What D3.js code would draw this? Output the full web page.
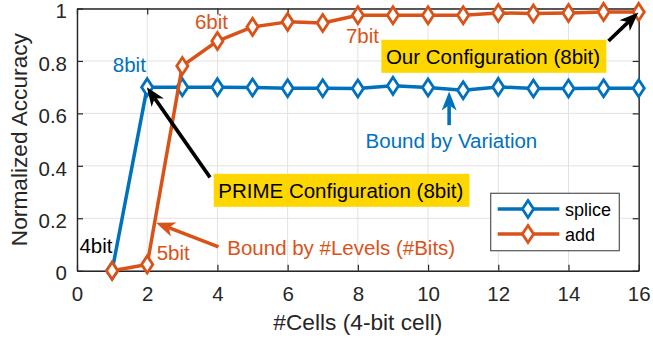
<!DOCTYPE html>
<html><head><meta charset="utf-8">
<script src="https://cdn.jsdelivr.net/npm/d3@7"></script>
<style>
body{margin:0;background:#fff}
svg{display:block}
text{font-family:"Liberation Sans",Arial,Helvetica,sans-serif}
</style>
</head><body>
<svg id="chart" width="653" height="340"></svg>
<script>
// ---- data ----
const cells = [1,2,3,4,5,6,7,8,9,10,11,12,13,14,15,16];
const splice = [0,0.700,0.700,0.700,0.699,0.696,0.696,0.695,0.705,0.699,0.688,0.701,0.695,0.695,0.696,0.696];
const add    = [0,0.024,0.781,0.876,0.930,0.949,0.945,0.974,0.974,0.974,0.974,0.983,0.981,0.983,0.987,0.987];
const seriesNames = ["splice","add"];
const xTicks = [0,2,4,6,8,10,12,14,16];
const yTicks = [0,0.2,0.4,0.6,0.8,1];
const yTickLabels = ["0","0.2","0.4","0.6","0.8","1"];
const xLabel = "#Cells (4-bit cell)";
const yLabel = "Normalized Accuracy";
// annotation texts: [text, x, y (data units, left/baseline), colour key]
const noteTexts = [
  ["8bit", 1.02, 0.757, "blue"],
  ["6bit", 3.36, 0.923, "orange"],
  ["7bit", 7.66, 0.869, "orange"],
  ["4bit", 0.07, 0.066, "black"],
  ["5bit", 2.27, 0.041, "orange"],
  ["Bound by Variation", 8.22, 0.469, "blue"],
  ["Bound by #Levels (#Bits)", 4.28, 0.060, "orange"]
];
// highlighted boxes: [text, x, y (left/baseline)]
const boxTexts = [
  ["Our Configuration (8bit)", 8.80, 0.789],
  ["PRIME Configuration (8bit)", 4.025, 0.278]
];
// arrows: [x1,y1 (tail), x2,y2 (tip), colour key]
const arrows = [
  [3.79, 0.356, 1.99, 0.700, "black"],
  [15.14, 0.876, 15.99, 0.985, "black"],
  [10.60, 0.555, 10.60, 0.683, "blue"],
  [4.03, 0.091, 2.25, 0.183, "orange"]
];

// ---- drawing ----
const colors = {blue:"#0072BD", orange:"#D95319", black:"#000000"};
const seriesColors = [colors.blue, colors.orange];
const axisColor = "#262626";
const svg = d3.select("#chart");
const x = d3.scaleLinear().domain([0,16]).range([77,638.7]);
const y = d3.scaleLinear().domain([0,1]).range([270.7,8.5]);

// grid
const grid = svg.append("g");
grid.selectAll(".gx").data(xTicks).join("line")
  .attr("x1",d=>x(d)).attr("x2",d=>x(d)).attr("y1",y(0)).attr("y2",y(1))
  .attr("stroke","#e2e2e2").attr("stroke-width",1);
grid.selectAll(".gy").data(yTicks).join("line")
  .attr("x1",x(0)).attr("x2",x(16)).attr("y1",d=>y(d)).attr("y2",d=>y(d))
  .attr("stroke","#e2e2e2").attr("stroke-width",1);

// axes
function styleAxis(g){
  g.select(".domain").attr("stroke",axisColor).attr("stroke-width",1.4);
  g.selectAll(".tick line").attr("stroke",axisColor).attr("stroke-width",1.2);
  g.selectAll(".tick text").attr("fill",axisColor).style("font-size","20.5px")
   .style("font-family",'"Liberation Sans",Arial,sans-serif');
}
svg.append("g").attr("transform",`translate(0,${y(0)})`)
  .call(d3.axisBottom(x).tickValues(xTicks).tickFormat(d3.format("d")).tickSizeInner(-6).tickSizeOuter(0).tickPadding(16))
  .call(styleAxis);
svg.append("g").attr("transform",`translate(0,${y(1)})`)
  .call(d3.axisTop(x).tickValues(xTicks).tickFormat("").tickSizeInner(-6).tickSizeOuter(0))
  .call(styleAxis);
svg.append("g").attr("transform",`translate(${x(0)},0)`)
  .call(d3.axisLeft(y).tickValues(yTicks).tickFormat((d,i)=>yTickLabels[i]).tickSizeInner(-6).tickSizeOuter(0).tickPadding(10))
  .call(styleAxis)
  .call(g=>g.selectAll(".tick text").attr("dy","0.45em"));
svg.append("g").attr("transform",`translate(${x(16)},0)`)
  .call(d3.axisRight(y).tickValues(yTicks).tickFormat("").tickSizeInner(-6).tickSizeOuter(0))
  .call(styleAxis);

// axis labels
svg.append("text").attr("x",(x(0)+x(16))/2).attr("y",330).attr("text-anchor","middle")
  .attr("fill",axisColor).style("font-size","22.7px").text(xLabel);
svg.append("text").attr("transform",`translate(26.7,${(y(0)+y(1))/2}) rotate(-90)`)
  .attr("text-anchor","middle").attr("fill",axisColor).style("font-size","22.7px").text(yLabel);

// series
const diamond = "M0,-8.5L5.6,0L0,8.5L-5.6,0Z";
const line = d3.line().x(d=>x(d[0])).y(d=>y(d[1]));
[splice, add].forEach((vals,i)=>{
  const pts = cells.map((c,j)=>[c, vals[j]]);
  const g = svg.append("g");
  g.append("path").attr("d",line(pts)).attr("fill","none")
    .attr("stroke",seriesColors[i]).attr("stroke-width",3.5).attr("stroke-linejoin","round");
  g.selectAll("path.m").data(pts).join("path").attr("class","m")
    .attr("transform",d=>`translate(${x(d[0])},${y(d[1])})`).attr("d",diamond)
    .attr("fill","#fff").attr("stroke",seriesColors[i]).attr("stroke-width",2.8);
});

// arrows
function drawArrow(x1,y1,x2,y2,color){
  const dx=x2-x1, dy=y2-y1, len=Math.hypot(dx,dy), ux=dx/len, uy=dy/len, px=-uy, py=ux;
  const L=19, Wh=7.5, back=0.72*L;
  svg.append("line").attr("x1",x1).attr("y1",y1).attr("x2",x2-ux*back).attr("y2",y2-uy*back)
    .attr("stroke",color).attr("stroke-width",3.6);
  const p = [[x2,y2],[x2-ux*L+px*Wh, y2-uy*L+py*Wh],[x2-ux*back,y2-uy*back],[x2-ux*L-px*Wh, y2-uy*L-py*Wh]];
  svg.append("polygon").attr("points",p.map(q=>q.join(",")).join(" ")).attr("fill",color);
}
arrows.forEach(a=>drawArrow(x(a[0]),y(a[1]),x(a[2]),y(a[3]),colors[a[4]]));

// annotation texts
noteTexts.forEach(t=>{
  svg.append("text").attr("x",x(t[1])).attr("y",y(t[2])).attr("fill",colors[t[3]])
    .style("font-size","20.5px").text(t[0]);
});
boxTexts.forEach(t=>{
  const g = svg.append("g");
  const rect = g.append("rect");
  const tx = g.append("text").attr("x",x(t[1])).attr("y",y(t[2])).attr("fill","#000")
    .style("font-size","20.5px").text(t[0]);
  const b = tx.node().getBBox();
  rect.attr("x",b.x-4.6).attr("y",b.y-5).attr("width",b.width+10.8).attr("height",b.height+10)
    .attr("fill","#FFD700");
});

// legend
const lg = svg.append("g");
lg.append("rect").attr("x",490.7).attr("y",193.3).attr("width",128.6).attr("height",57.4)
  .attr("fill","#fff").attr("stroke","#555").attr("stroke-width",1.2);
seriesNames.forEach((n,i)=>{
  const yy = 209 + i*25;
  lg.append("line").attr("x1",497.7).attr("x2",559.3).attr("y1",yy).attr("y2",yy)
    .attr("stroke",seriesColors[i]).attr("stroke-width",3.5);
  lg.append("path").attr("transform",`translate(528,${yy})`).attr("d",diamond)
    .attr("fill","#fff").attr("stroke",seriesColors[i]).attr("stroke-width",2.8);
  lg.append("text").attr("x",565).attr("y",yy+6.5).attr("fill","#000")
    .style("font-size","18px").text(n);
});
</script>
</body></html>
